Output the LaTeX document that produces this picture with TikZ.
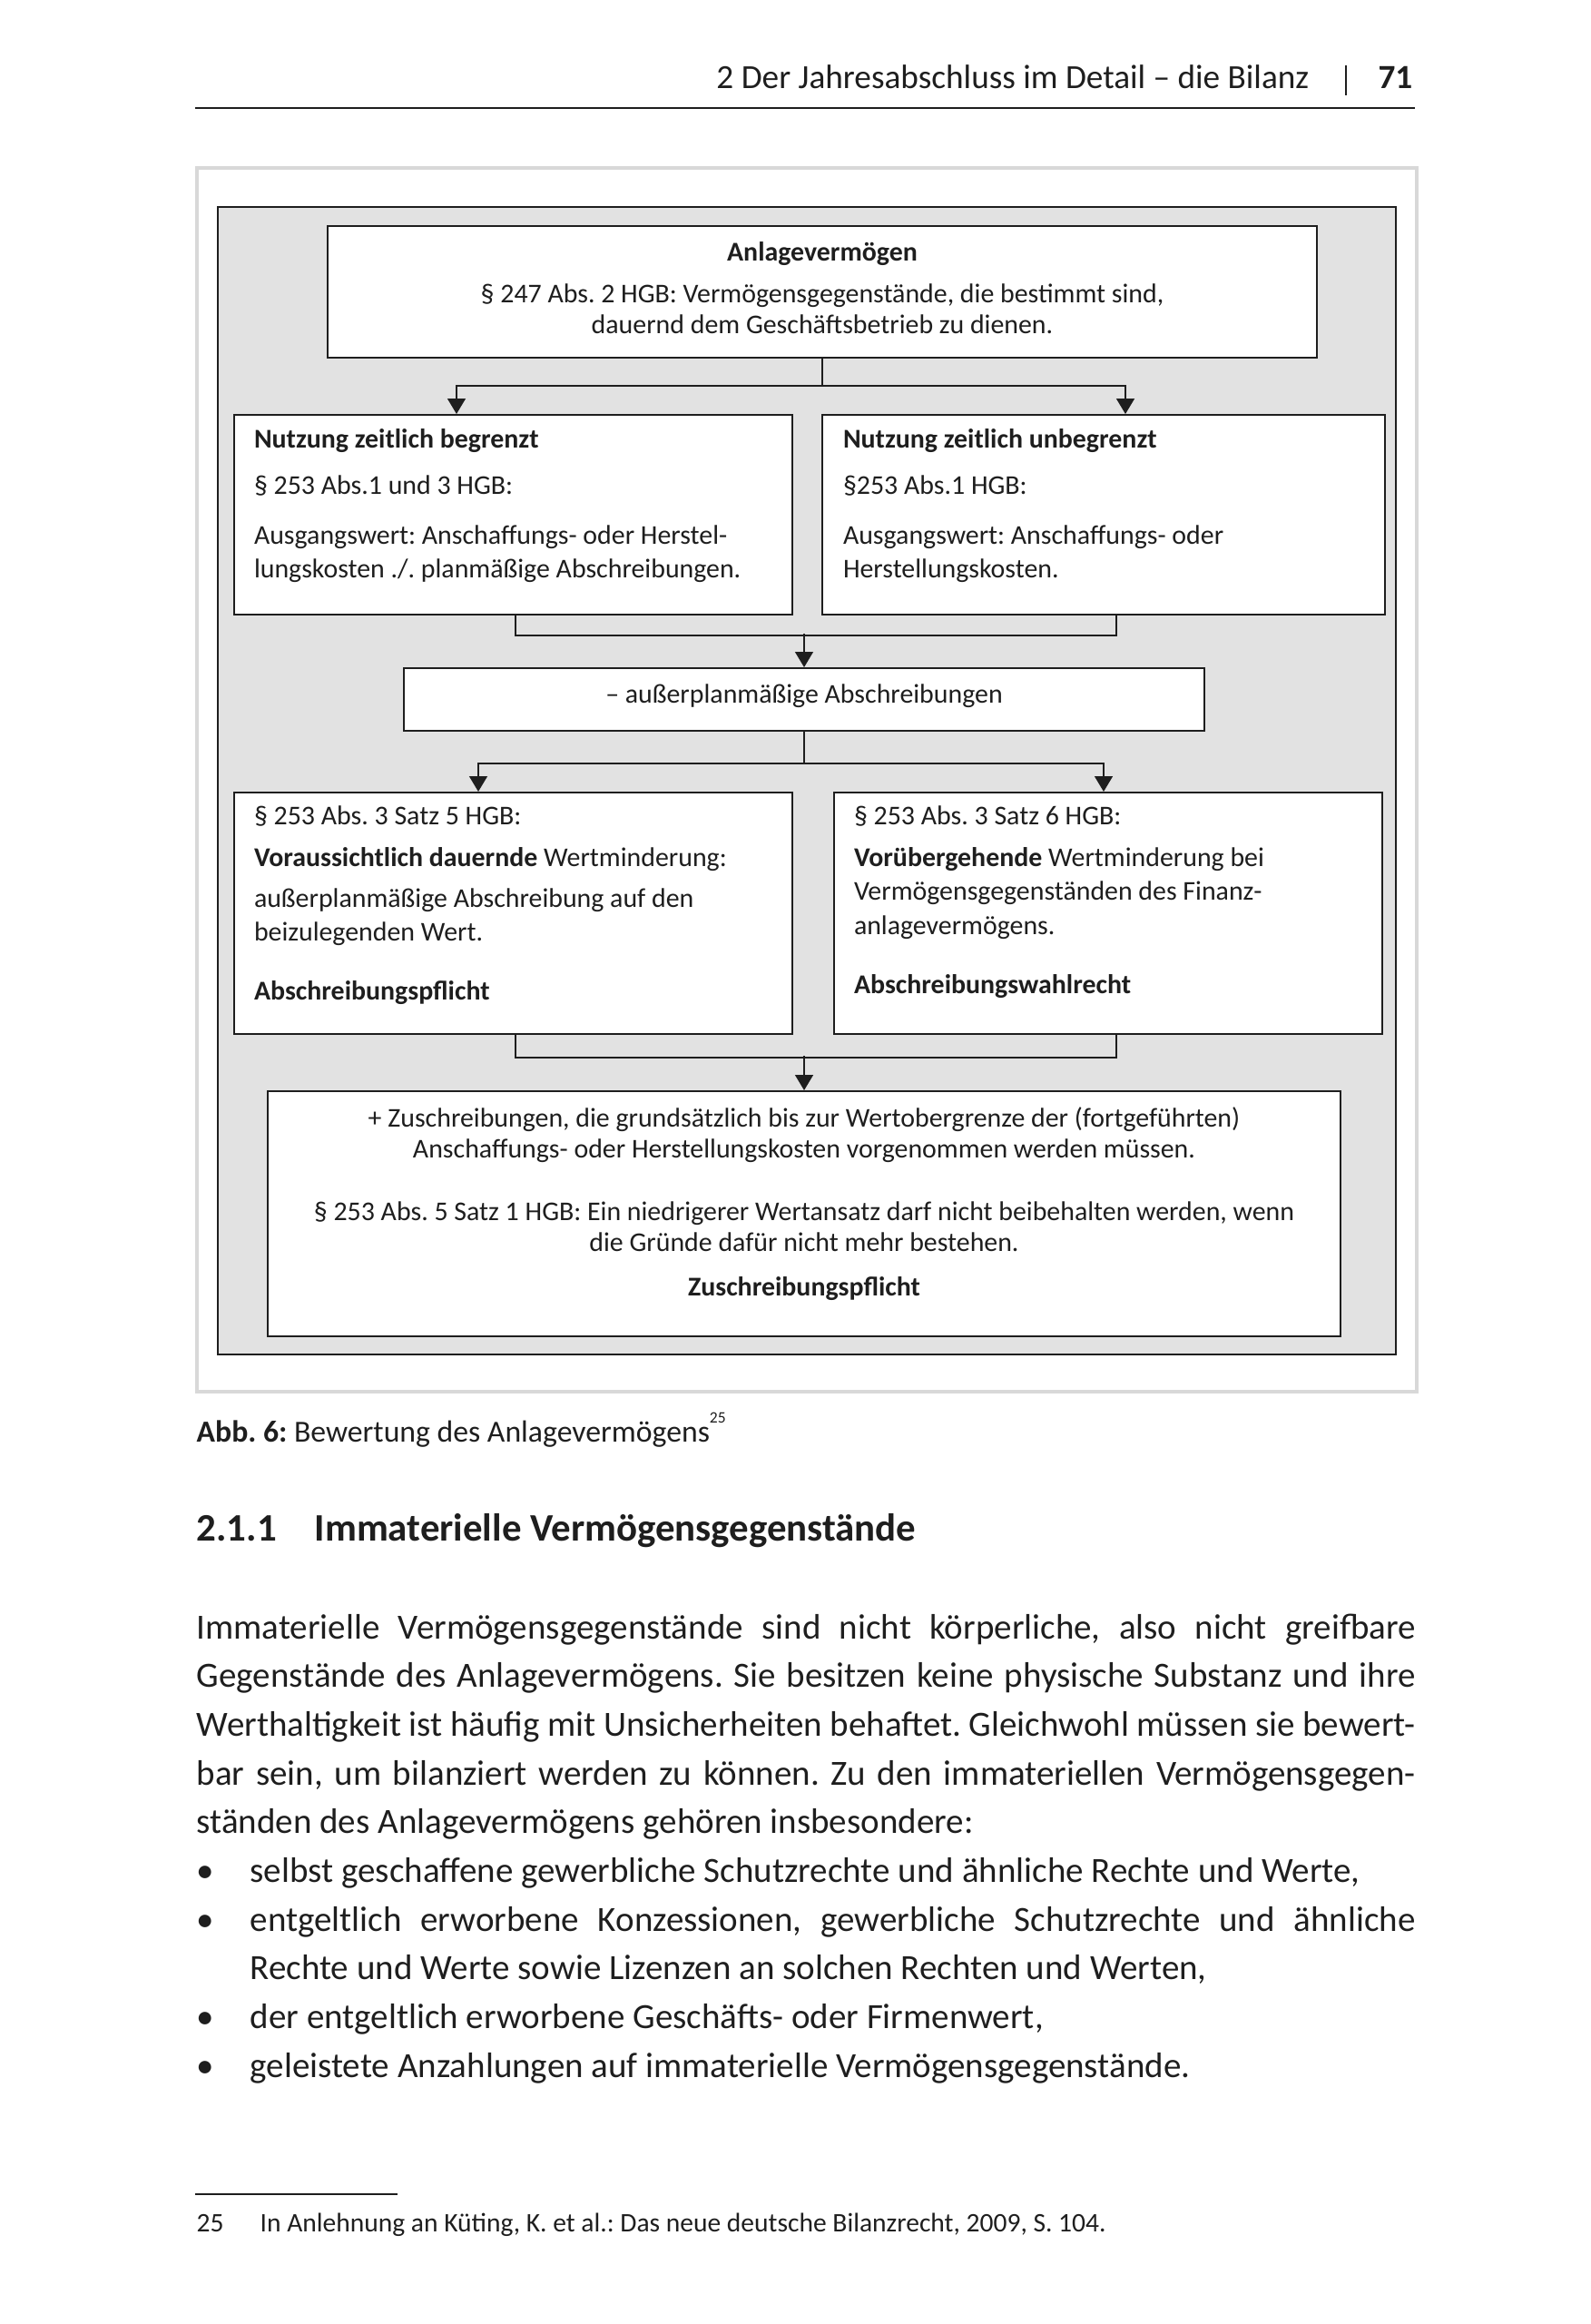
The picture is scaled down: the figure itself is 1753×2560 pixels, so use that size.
\documentclass[tikz,border=0pt]{standalone}
\usepackage{fontspec}
\setmainfont{Carlito}
\usepackage{xcolor}
\usepackage{tikz}
\usetikzlibrary{arrows.meta, positioning}
\definecolor{panelgrey}{HTML}{E2E2E2}
\definecolor{framegrey}{HTML}{D8D8D8}
\definecolor{ink}{HTML}{1E1E1E}
\tikzstyle{arrow} = [line width=0.15mm, draw=ink, -{Triangle[width=2mm,length=1.7mm]}]
\tikzstyle{link} = [line width=0.15mm, draw=ink]
\tikzstyle{block} = [rectangle, draw=ink, fill=white, line width=0.2mm, anchor=north west, inner ysep=0pt]
\tikzstyle{leftblock} = [block, align=left, inner xsep=2.2mm, font=\fontsize{8.5pt}{3.75mm}\selectfont]
\tikzstyle{midblock} = [block, align=center, inner xsep=2mm, font=\fontsize{8.5pt}{3.45mm}\selectfont]
\tikzstyle{seite} = [anchor=base west, inner sep=0pt]
\tikzset{every node/.style={align=center, text=ink,
    execute at begin node={\spaceskip=\fontdimen2\font\xspaceskip=0pt\frenchspacing}}}
\newcommand{\jline}[2][134.3mm]{\makebox[#1][s]{\spaceskip=0pt #2}}
\newcommand{\bpunkt}{\makebox[5.9mm][l]{•}}

\begin{document}
\begin{tikzpicture}[x=0.1mm, y=-0.1mm]
    \useasboundingbox (0,0) rectangle (1753,2560);

    % Kopfzeile
    \node (kopf) [anchor=base east, inner sep=0pt, font=\fontsize{10.6pt}{12pt}\selectfont] at (1443,97) {2 Der Jahresabschluss im Detail – die Bilanz};
    \node (nr) [anchor=base east, inner sep=0pt, font=\fontsize{10.6pt}{12pt}\selectfont\bfseries] at (1557,97) {71};
    \draw [link] (1483,72) -- (1483,105);
    \draw [link] (215,119) -- (1559,119);

    % Rahmen
    \draw [framegrey, line width=0.4mm] (217,185) rectangle (1561,1533);
    \draw [draw=ink, fill=panelgrey, line width=0.2mm] (240,228) rectangle (1538,1492);

    \node (anlv) [midblock, text width=105mm, text height=3.8mm, text depth=10.7mm] at (360,248)
        {\textbf{Anlagevermögen}\\[1.15mm] § 247 Abs. 2 HGB: Vermögensgegenstände, die bestimmt sind,\\ dauernd dem Geschäftsbetrieb zu dienen.};
    \node (begr) [leftblock, text width=57.1mm, text height=3.6mm, text depth=18.4mm] at (257,456)
        {\textbf{Nutzung zeitlich begrenzt}\\[1.35mm] § 253 Abs.1 und 3 HGB:\\[1.75mm] Ausgangswert: Anschaffungs- oder Herstel-\\ lungskosten ./. planmäßige Abschreibungen.};
    \node (unbegr) [leftblock, inner xsep=2.3mm, text width=57.4mm, text height=3.6mm, text depth=18.4mm] at (905,456)
        {\textbf{Nutzung zeitlich unbegrenzt}\\[1.35mm] §253 Abs.1 HGB:\\[1.75mm] Ausgangswert: Anschaffungs- oder\\ Herstellungskosten.};
    \node (ausserpl) [midblock, text width=84.2mm, text height=3.8mm, text depth=3.1mm] at (444,735)
        {– außerplanmäßige Abschreibungen};
    \node (dauernd) [leftblock, text width=57.1mm, text height=3.5mm, text depth=23.1mm] at (257,872)
        {§ 253 Abs. 3 Satz 5 HGB:\\[0.85mm] \textbf{Voraussichtlich dauernde} Wertminderung:\\[0.75mm] außerplanmäßige Abschreibung auf den\\ beizulegenden Wert.\\[2.75mm] \textbf{Abschreibungspflicht}};
    \node (voruebergehend) [leftblock, text width=56mm, text height=3.5mm, text depth=23.1mm] at (918,872)
        {§ 253 Abs. 3 Satz 6 HGB:\\[0.85mm] \textbf{Vorübergehende} Wertminderung bei\\ Vermögensgegenständen des Finanz-\\ anlagevermögens.\\[2.75mm] \textbf{Abschreibungswahlrecht}};
    \node (zuschr) [midblock, text width=114.2mm, text height=3.9mm, text depth=23.1mm] at (294,1201)
        {+ Zuschreibungen, die grundsätzlich bis zur Wertobergrenze der (fortgeführten)\\ Anschaffungs- oder Herstellungskosten vorgenommen werden müssen.\\[3.4mm] § 253 Abs. 5 Satz 1 HGB: Ein niedrigerer Wertansatz darf nicht beibehalten werden, wenn\\ die Gründe dafür nicht mehr bestehen.\\[1.4mm] \textbf{Zuschreibungspflicht}};

    \draw [arrow] (anlv.south) -- ++(0,30) -| ([xshift=24.6mm]begr.north west);
    \draw [arrow] (anlv.south) -- ++(0,30) -| ([xshift=33.5mm]unbegr.north west);
    \draw [link] ([xshift=31.1mm]begr.south west) -- ++(0,22) -| ([xshift=32.5mm]unbegr.south west);
    \draw [arrow] ([yshift=3.7mm]ausserpl.north) -- (ausserpl.north);
    \draw [arrow] (ausserpl.south) -- ++(0,35) -| ([xshift=27mm]dauernd.north west);
    \draw [arrow] (ausserpl.south) -- ++(0,35) -| ([xshift=29.8mm]voruebergehend.north west);
    \draw [link] ([xshift=31.1mm]dauernd.south west) -- ++(0,25) -| ([xshift=31.2mm]voruebergehend.south west);
    \draw [arrow] ([yshift=3.8mm]zuschr.north) -- (zuschr.north);

    % Text unter der Abbildung
    \node (abb) [seite, font=\fontsize{9.6pt}{11pt}\selectfont] at (216,1588)
        {\textbf{Abb. 6:} Bewertung des Anlagevermögens\raisebox{1.3ex}{\fontsize{5pt}{6pt}\selectfont 25}};
    \node (kap) [seite, font=\fontsize{12.2pt}{14pt}\selectfont\bfseries] at (216,1697)
        {\makebox[13mm][l]{2.1.1}Immaterielle Vermögensgegenstände};
    \node (text) [seite, text width=134.3mm, align=left, font=\fontsize{11.1pt}{5.37mm}\selectfont] at (216,1805)
        {\jline{Immaterielle Vermögensgegenstände sind nicht körperliche, also nicht greifbare}\\
         \jline{Gegenstände des Anlagevermögens. Sie besitzen keine physische Substanz und ihre}\\
         \jline{Werthaltigkeit ist häufig mit Unsicherheiten behaftet. Gleichwohl müssen sie bewert-}\\
         \jline{bar sein, um bilanziert werden zu können. Zu den immateriellen Vermögensgegen-}\\
         ständen des Anlagevermögens gehören insbesondere:\\
         \bpunkt selbst geschaffene gewerbliche Schutzrechte und ähnliche Rechte und Werte,\\
         \bpunkt\jline[128.4mm]{entgeltlich erworbene Konzessionen, gewerbliche Schutzrechte und ähnliche}\\
         \hspace*{5.9mm}Rechte und Werte sowie Lizenzen an solchen Rechten und Werten,\\
         \bpunkt der entgeltlich erworbene Geschäfts- oder Firmenwert,\\
         \bpunkt geleistete Anzahlungen auf immaterielle Vermögensgegenstände.};

    % Fussnote
    \draw [link] (215,2417) -- (438,2417);
    \node (fn) [seite, font=\fontsize{8.4pt}{10pt}\selectfont] at (216,2458)
        {\makebox[7mm][l]{25}In Anlehnung an Küting, K. et al.: Das neue deutsche Bilanzrecht, 2009, S. 104.};
\end{tikzpicture}
\end{document}
